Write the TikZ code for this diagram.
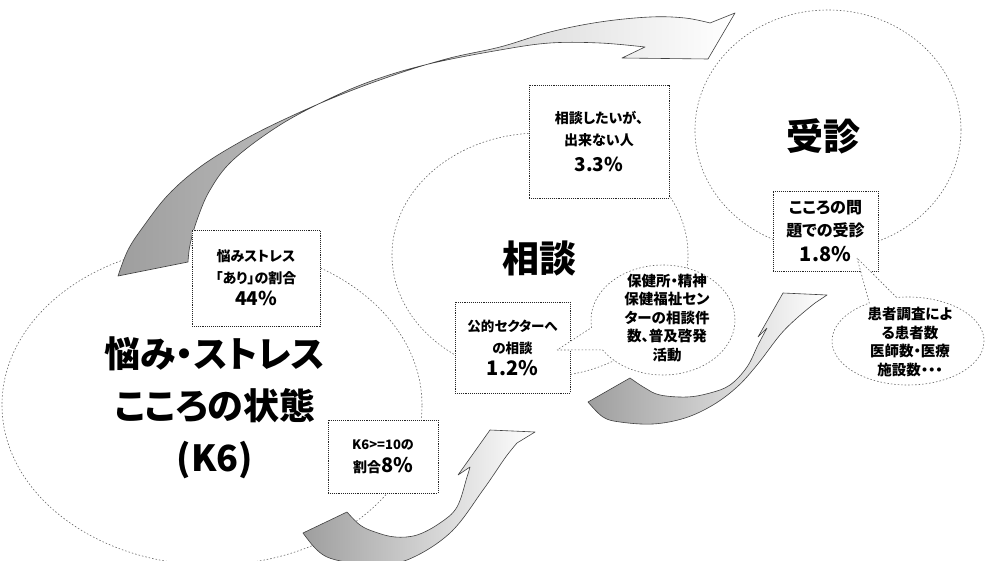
\documentclass[tikz,border=0pt]{standalone}
\usepackage{fontspec}
\newfontfamily\jp[RawFeature=+palt]{Noto Sans CJK JP}
\usetikzlibrary{shapes.geometric,shapes.callouts}
\begin{document}
\begin{tikzpicture}[x=1pt,y=-1pt,
  ring/.style={draw=black!60, line width=0.6pt, dash pattern=on 1.5pt off 2pt, ellipse, inner sep=0pt},
  infobox/.style={draw=black!85, line width=0.9pt, densely dotted, fill=white, rectangle, inner sep=0pt, align=center, font=\jp\bfseries\fontsize{14}{22}\selectfont},
  bubble/.style={ellipse callout, draw=black!60, line width=0.6pt, dash pattern=on 1.5pt off 2pt, fill=white, inner sep=0pt},
  bubbletext/.style={align=center, font=\jp\bfseries\fontsize{14.5}{18.5}\selectfont, inner sep=0pt},
  bigtext/.style={font=\jp\bfseries\fontsize{36}{52}\selectfont, align=center, inner sep=0pt},
  cycarrow/.style={draw=black!75, line width=0.6pt, line join=round, left color=black!38, right color=white}
]
\useasboundingbox (0,0) rectangle (985,561);
\clip (0,0) rectangle (985,561);
\fill[white] (0,0) rectangle (985,561);

% circles
\node[ring, minimum width=420pt, minimum height=320pt] (worry) at (212,405) {};
\node[ring, minimum width=296pt, minimum height=244pt] (consult) at (540,255) {};
\node[ring, minimum width=266pt, minimum height=240pt] (visit) at (828,130) {};

% top curved arrow
\draw[cycarrow] plot[smooth, tension=0.6] coordinates {(118,276) (128,250) (143,227) (168,195) (200,167) (240,142) (283,120) (340,95) (400,73) (450,58) (500,47) (550,32) (600,22) (650,17) (685,18) (710,23)}
  -- (735,13) -- (708,59) -- (622,58) -- (645,47)
  -- plot[smooth, tension=0.6] coordinates {(645,47) (600,43) (550,43) (500,50) (433,63) (380,78) (333,97) (280,125) (233,160) (210,190) (197,220) (190,245) (188,262)}
  -- cycle;

% bottom curved arrow
\draw[cycarrow] plot[smooth, tension=0.6] coordinates {(303,533) (315,548) (327,557) (345,562) (367,566) (407,560) (450,533) (483,490) (505,458) (517,443)}
  -- (535,432) -- (490,430) -- (458,475) -- (470,467)
  -- plot[smooth, tension=0.6] coordinates {(470,467) (467,477) (457,507) (440,523) (417,535) (395,537) (375,532) (360,525) (347,512)}
  -- cycle;

% middle curved arrow
\draw[cycarrow] plot[smooth, tension=0.6] coordinates {(588,402) (603,417) (620,422) (653,424) (685,418) (713,405) (737,387) (757,365) (780,335) (797,318) (815,303)}
  -- (827,295) -- (783,293) -- (758,337) -- (767,328)
  -- plot[smooth, tension=0.6] coordinates {(767,328) (758,345) (747,367) (730,385) (710,393) (687,397) (660,395) (645,388) (630,378)}
  -- cycle;

% boxes
\node[infobox, minimum width=128pt, minimum height=96pt] (boxA) at (256,278)
  {悩みストレス\\「あり」の割合\\{\fontsize{19}{22}\selectfont 44\%}};
\node[infobox, minimum width=140pt, minimum height=113pt] (boxB) at (599,141.5)
  {相談したいが、\\出来ない人\\[4pt]{\fontsize{19}{22}\selectfont 3.3\%}};
\node[infobox, minimum width=105pt, minimum height=80pt, font=\jp\bfseries\fontsize{16}{23}\selectfont] (boxC) at (825.5,231)
  {こころの問\\題での受診\\[2pt]{\fontsize{20}{23}\selectfont 1.8\%}};
\node[infobox, minimum width=115pt, minimum height=91pt, font=\jp\bfseries\fontsize{13.5}{22}\selectfont] (boxD) at (512.5,347.5)
  {公的セクターへ\\の相談\\{\fontsize{20}{22}\selectfont 1.2\%}};
\node[infobox, minimum width=110pt, minimum height=73pt, font=\jp\bfseries\fontsize{13}{23}\selectfont] (boxE) at (383,456.5)
  {K6>=10の\\{\fontsize{14}{23}\selectfont 割合}{\fontsize{20}{23}\selectfont 8\%}};

% callouts
\node[bubble, minimum width=144pt, minimum height=110pt, callout absolute pointer={(557,350)}, callout pointer arc=25] (bubF) at (663,320) {};
\node[bubbletext] (txtF) at (667,318) {保健所・精神\\保健福祉セン\\ターの相談件\\数、普及啓発\\活動};
\node[bubble, minimum width=152pt, minimum height=88pt, callout absolute pointer={(857,258)}, callout pointer arc=22] (bubG) at (908,341) {};
\node[bubbletext] (txtG) at (910,342) {患者調査によ\\る患者数\\医師数・医療\\施設数・・・};

% big labels
\node[bigtext] (worrytxt) at (215,408) {悩み・ストレス\\こころの状態\\(K6)};
\node[font=\jp\bfseries\fontsize{37}{40}\selectfont, inner sep=0pt] (consulttxt) at (539,258) {相談};
\node[font=\jp\bfseries\fontsize{37}{40}\selectfont, inner sep=0pt] (visittxt) at (823,136) {受診};
\end{tikzpicture}
\end{document}
